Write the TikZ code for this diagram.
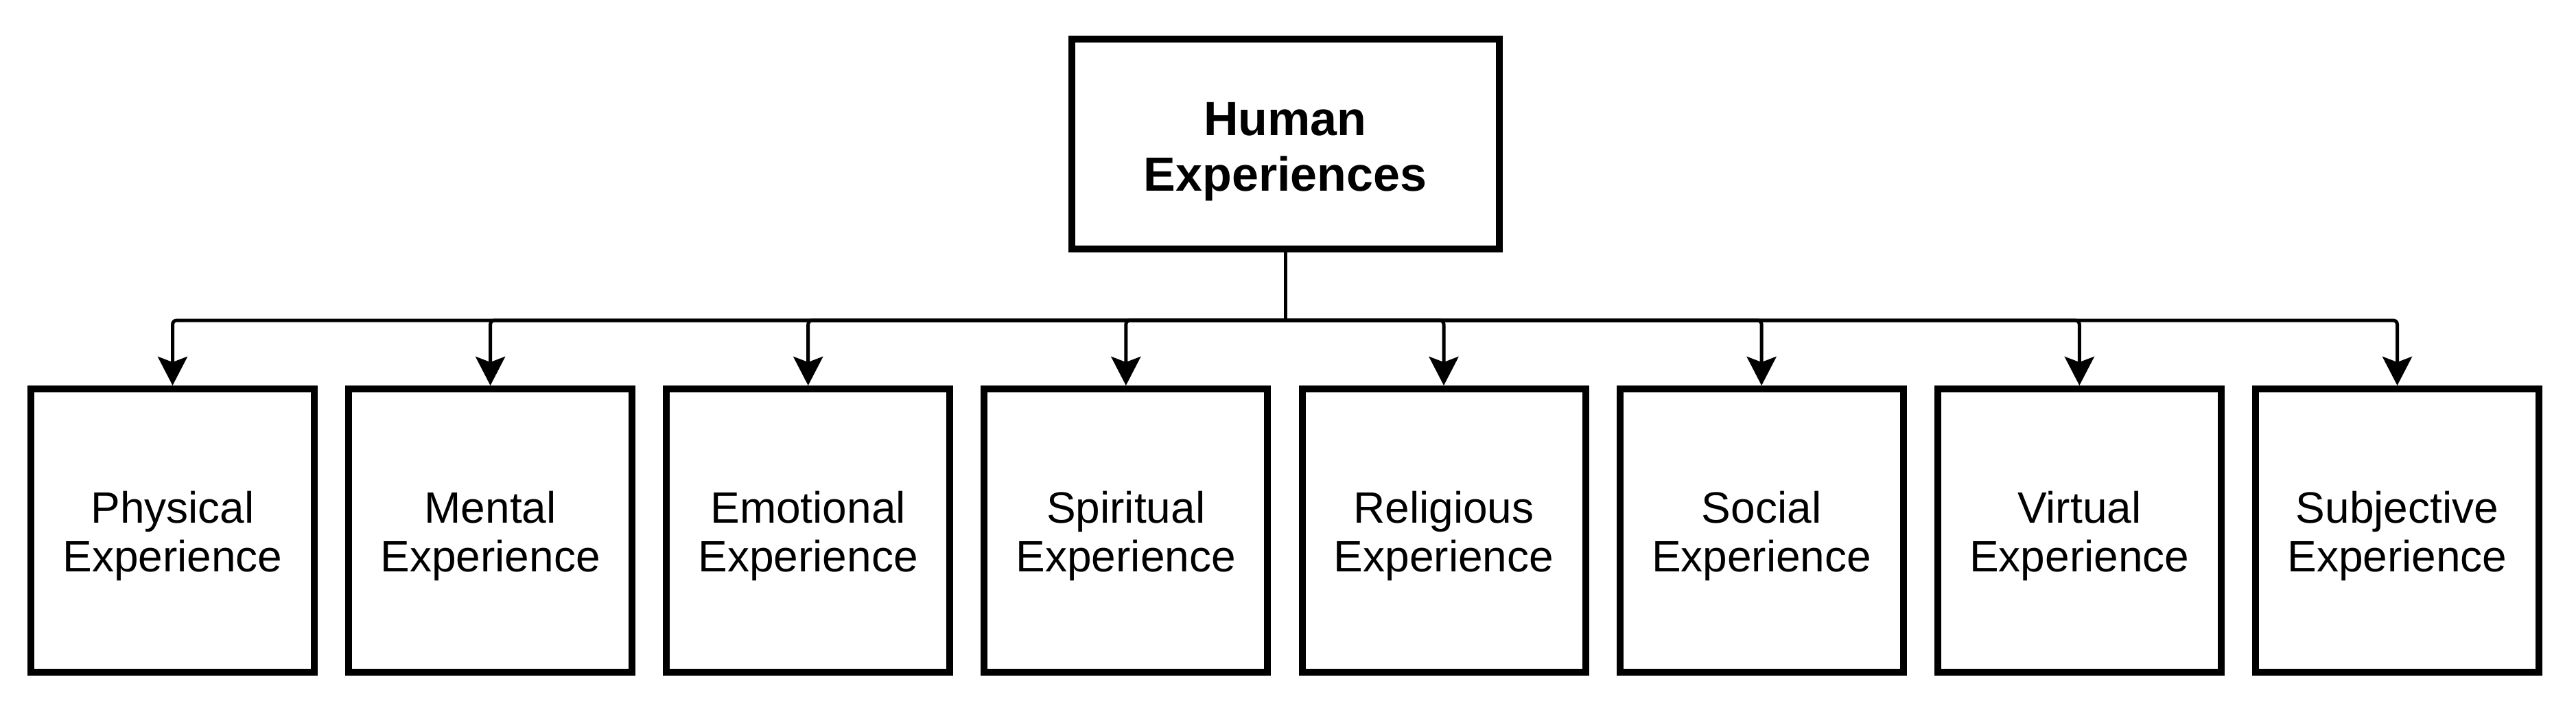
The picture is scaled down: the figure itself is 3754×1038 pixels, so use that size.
\documentclass[tikz,border=0pt]{standalone}
\usepackage{fontspec}
\setmainfont{Liberation Sans}
\usetikzlibrary{arrows.meta}
\begin{document}
\begin{tikzpicture}[x=1pt,y=-1pt,
  topbox/.style={draw=black,line width=10pt,fill=white,minimum width=623pt,minimum height=306pt,inner sep=0pt,align=center,text height=150.7pt,text depth=14.7pt,font=\fontsize{70}{81}\selectfont\bfseries},
  leafbox/.style={draw=black,line width=10pt,fill=white,minimum width=413pt,minimum height=413pt,inner sep=0pt,align=center,text height=132.4pt,text depth=13.4pt,font=\fontsize{64}{71}\selectfont},
  conn/.style={draw=black,line width=5pt},
  arr/.style={conn,rounded corners=6pt,-{Stealth[width=43pt,length=42pt,inset=8pt]}}]
\useasboundingbox[fill=white] (0,0) rectangle (3754,1038);
\node[topbox] (top) at (1873,210) {Human\\Experiences};
\node[leafbox] (b1) at (251.5,773.5) {Physical\\Experience};
\node[leafbox] (b2) at (714.6,773.5) {Mental\\Experience};
\node[leafbox] (b3) at (1177.7,773.5) {Emotional\\Experience};
\node[leafbox] (b4) at (1640.8,773.5) {Spiritual\\Experience};
\node[leafbox] (b5) at (2104.0,773.5) {Religious\\Experience};
\node[leafbox] (b6) at (2567.1,773.5) {Social\\Experience};
\node[leafbox] (b7) at (3030.3,773.5) {Virtual\\Experience};
\node[leafbox] (b8) at (3493.5,773.5) {Subjective\\Experience};
\coordinate (bus) at (1873,467);
\draw[conn] (top.south) -- (bus);
\foreach \i in {1,...,8}{
  \draw[arr] (bus) -| (b\i.north);
}
\end{tikzpicture}
\end{document}
